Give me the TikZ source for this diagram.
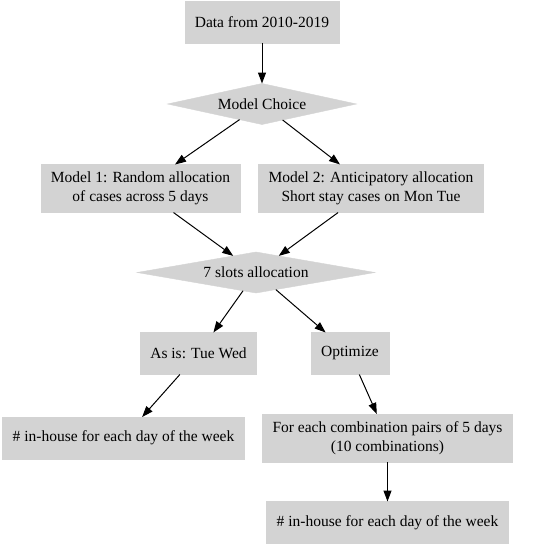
\documentclass[tikz,border=0pt]{standalone}
\usepackage{fontspec}
\setmainfont{Liberation Serif}
\usepackage{tikz}
\usetikzlibrary{arrows.meta, shapes.geometric}
\definecolor{gvGray}{HTML}{D3D3D3}

\begin{document}
\begin{tikzpicture}[x=1pt, y=-1pt,
      box/.style={fill=gvGray, draw=gvGray, align=center, inner xsep=10pt, inner ysep=7.5pt,
        minimum height=42pt, outer sep=0pt, font=\fontsize{15.5}{19}\selectfont},
      dia/.style={diamond, fill=gvGray, draw=gvGray, inner sep=1pt, minimum height=41pt,
        outer sep=0pt, font=\fontsize{15.5}{19}\selectfont},
      arr/.style={-{Triangle[length=11pt, width=8pt]}, line width=1pt}]
    \useasboundingbox (0,0) rectangle (536,551);
    \node[box] (data) at (262, 22) {Data from 2010-2019};
    \node[dia, aspect=4.6, minimum width=189pt] (choice) at (262, 104) {Model Choice};
    \node[box] (mone) at (140.5, 188.5) {Model 1: Random allocation\\of cases across 5 days};
    \node[box] (mtwo) at (371, 188.5) {Model 2: Anticipatory allocation\\Short stay cases on Mon Tue};
    \node[dia, aspect=5.8, minimum width=238pt] (slots) at (256, 272.5) {7 slots allocation};
    \node[box] (asis) at (198.5, 353.5) {As is: Tue Wed};
    \node[box] (opt) at (350, 353.5) {Optimize};
    \node[box] (inleft) at (123.5, 438) {\# in-house for each day of the week};
    \node[box] (each) at (387.5, 438) {For each combination pairs of 5 days\\(10 combinations)};
    \node[box] (inright) at (387.5, 522.5) {\# in-house for each day of the week};
    \draw[arr] (data) -- (choice);
    \draw[arr] (choice) -- (mone);
    \draw[arr] (choice) -- (mtwo);
    \draw[arr] (mone) -- (slots);
    \draw[arr] (mtwo) -- (slots);
    \draw[arr] (slots) -- (asis);
    \draw[arr] (slots) -- (opt);
    \draw[arr] (asis) -- (inleft);
    \draw[arr] (opt) -- (each);
    \draw[arr] (each) -- (inright);
  \end{tikzpicture}
\end{document}
